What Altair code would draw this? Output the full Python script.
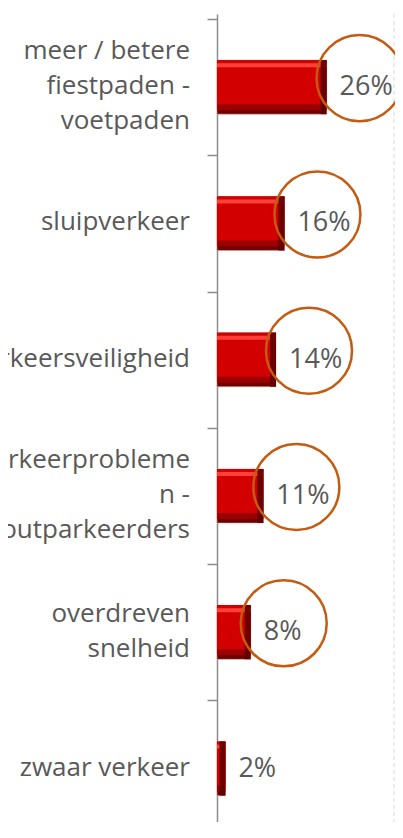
import altair as alt
import pandas as pd

# ---- data ----
categories = [
    "meer / betere|fiestpaden -|voetpaden",
    "sluipverkeer",
    "verkeersveiligheid",
    "parkeerprobleme|n -|foutparkeerders",
    "overdreven|snelheid",
    "zwaar verkeer",
]
values = [26, 16, 14, 11, 8, 2]
value_labels = ["26%", "16%", "14%", "11%", "8%", "2%"]
circled = [True, True, True, True, True, False]
x_max = 42
# visible part of the category axis (last band runs off the bottom of the picture)
y_domain = [-0.5, 5.355]
band_edges = [-0.5, 0.5, 1.5, 2.5, 3.5, 4.5]

df = pd.DataFrame({
    "idx": list(range(len(categories))),
    "cat": categories,
    "value": values,
    "label": value_labels,
    "circled": circled,
})
edge_df = pd.DataFrame({"edge": [x_max]})

# one row per printed line of each category label
line_rows = []
for k, c in enumerate(categories):
    parts = c.split("|")
    for i, p in enumerate(parts):
        line_rows.append({"idx": k, "line": p, "pos": i - (len(parts) - 1) / 2})
lines_df = pd.DataFrame(line_rows)

TEXT = "#595959"
AXIS = "#8c8c8c"
FONT = "Open Sans"
LINE_H = 35

y_scale = alt.Scale(domain=y_domain, reverse=True, nice=False, zero=False)
y_axis = alt.Axis(
    title=None,
    values=band_edges,
    labels=False,
    grid=False,
    tickSize=10,
    tickColor=AXIS,
    tickWidth=1.5,
    domainColor=AXIS,
    domainWidth=1.5,
)
y_enc = alt.Y("idx:Q", scale=y_scale, axis=y_axis)
x_scale = alt.Scale(domain=[0, x_max], nice=False)
x_enc = alt.X("value:Q", scale=x_scale, axis=None, stack=None)

base = alt.Chart(df).encode(y=y_enc, x=x_enc)

# bevelled bar built from stacked layers
bar_dark = base.mark_bar(orient="horizontal", size=54, color="#6a0000",
                         stroke="#e8a0a0", strokeWidth=0.6)
bar_mid = base.mark_bar(orient="horizontal", size=50, yOffset=-2, color="#9c0000")
bar_body = base.mark_bar(orient="horizontal", size=44, yOffset=-5, color="#d20000")
bar_hi = base.mark_bar(orient="horizontal", size=4, yOffset=-22, color="#ff4038")
bar_edge = base.mark_tick(orient="vertical", size=54, thickness=6, xOffset=-3,
                          color="#5e0000", opacity=0.9)

texts = base.mark_text(
    align="left", baseline="middle", dx=13, dy=0,
    fontSize=27, font=FONT, color=TEXT,
).encode(text="label:N")

circles = base.transform_filter(alt.datum.circled).mark_point(
    shape="circle", filled=False, size=7400, opacity=1,
    stroke="#c55a11", strokeWidth=2.5, strokeOpacity=1,
    xOffset=33, yOffset=-9,
)

border = alt.Chart(edge_df).mark_rule(
    color="#d9d9d9", strokeDash=[4, 3], strokeWidth=1
).encode(x=alt.X("edge:Q", scale=x_scale, axis=None))

# category labels, one text layer per vertical line slot
label_layers = []
for p in sorted(set(lines_df["pos"])):
    label_layers.append(
        alt.Chart(lines_df)
        .transform_filter(alt.datum.pos == p)
        .mark_text(align="right", baseline="middle", dx=-27, dy=p * LINE_H - 1,
                   fontSize=26, font=FONT, color=TEXT)
        .encode(y=alt.Y("idx:Q", scale=y_scale, axis=y_axis),
                x=alt.value(0), text="line:N")
    )

chart = (
    alt.layer(border, bar_dark, bar_mid, bar_body, bar_hi, bar_edge,
              texts, circles, *label_layers)
    .properties(
        width=177,
        height=808,
        autosize=alt.AutoSizeParams(type="none"),
        padding={"left": 209, "top": 6, "right": 1, "bottom": 0},
    )
    .configure_view(stroke=None)
)

chart.save("out.html", embed_options={"renderer": "svg", "actions": False})
